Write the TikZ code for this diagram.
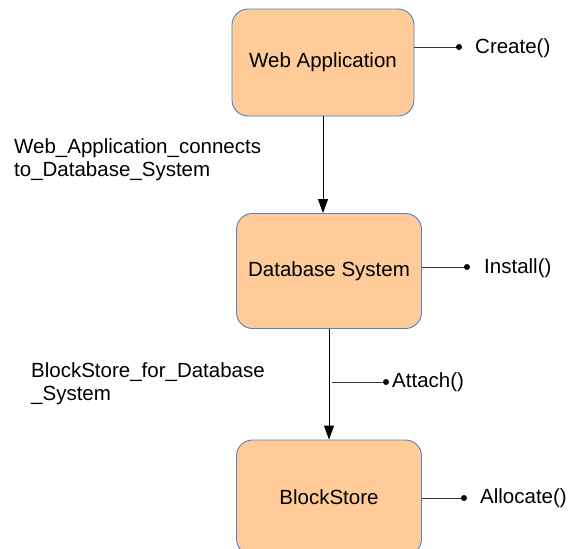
\documentclass[tikz,border=0pt]{standalone}
\usepackage{fontspec}
\setmainfont{Liberation Sans}
\usetikzlibrary{arrows.meta}

\definecolor{compfill}{HTML}{FFCC99}
\definecolor{compline}{HTML}{5A7EC0}

\tikzset{
  comp/.style={draw=compline, fill=compfill, rounded corners=16pt, line width=0.9pt,
    minimum width=185pt, minimum height=115pt, font=\fontsize{20.5}{23}\selectfont},
  lbl/.style={font=\fontsize{20.5}{23}\selectfont, inner sep=0pt, align=left, anchor=west},
  link/.style={line width=0.9pt, -{Triangle[length=14pt,width=10pt]}},
  stub/.style={line width=0.8pt, draw=black!80},
}

\begin{document}
\begin{tikzpicture}[x=1pt,y=-1pt]
   \useasboundingbox (0,0) rectangle (568,549);

   % components
   \node[comp, minimum width=182pt, minimum height=107pt] (webapp) at (323,62.5) {Web Application};
   \node[comp] (dbsys) at (329,271) {Database System};
   \node[comp] (blockstore) at (329,497.5) {BlockStore};

   % relations between components
   \draw[link] (webapp.south) -- (webapp.south |- dbsys.north);
   \draw[link] (dbsys.south) -- (blockstore.north);

   \node[lbl] (webdblbl) at (14,160) {Web\_Application\_connects\\to\_Database\_System};
   \node[lbl] (bsdblbl) at (31,384) {BlockStore\_for\_Database\\\_System};

   % operations
   \coordinate (create) at (459,47);
   \coordinate (install) at (467,267);
   \coordinate (attachfrom) at (332,382);
   \coordinate (attach) at (386,382);
   \coordinate (allocate) at (464,498);

   \draw[stub] (webapp.east |- create) -- (create);
   \draw[stub] (dbsys.east |- install) -- (install);
   \draw[stub] (attachfrom) -- (attach);
   \draw[stub] (blockstore.east |- allocate) -- (allocate);

   \fill (create) circle (3pt);
   \fill (install) circle (3pt);
   \fill (attach) circle (3pt);
   \fill (allocate) circle (3pt);

   \node[lbl] (createlbl) at (475,48) {Create()};
   \node[lbl] (installlbl) at (484,268) {Install()};
   \node[lbl] (attachlbl) at (392,382) {Attach()};
   \node[lbl] (allocatelbl) at (480,498) {Allocate()};
\end{tikzpicture}
\end{document}
